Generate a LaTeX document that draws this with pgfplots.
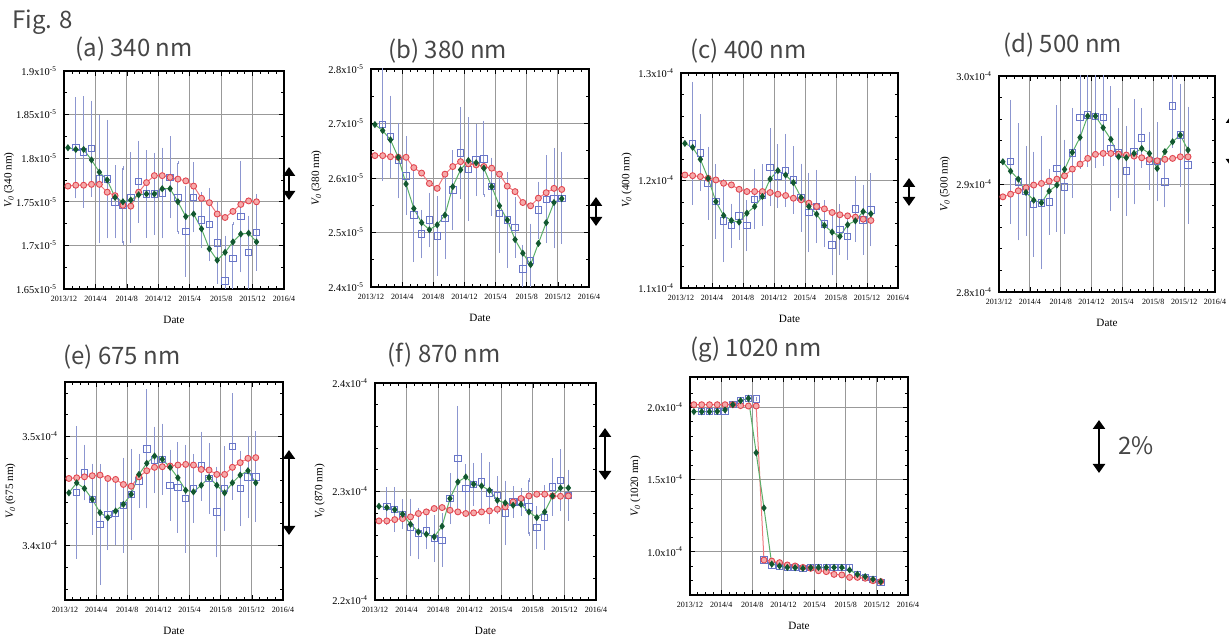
\documentclass[border=0pt]{standalone}
\usepackage{fontspec}
\setmainfont{Liberation Serif}
\newfontfamily\ttl{Noto Sans CJK JP}
\usepackage{pgfplots}
\usepackage{pgfplotstable}
\pgfplotsset{compat=1.18}
\usetikzlibrary{arrows.meta}

\definecolor{redm}{RGB}{225,70,80}
\definecolor{redl}{RGB}{238,120,125}
\definecolor{redf}{RGB}{246,170,170}
\definecolor{grnm}{RGB}{18,88,48}
\definecolor{grnl}{RGB}{90,175,105}
\definecolor{blu}{RGB}{105,118,200}
\definecolor{blue}{RGB}{140,150,208}
\definecolor{txt}{RGB}{70,70,70}

% columns: x (months since 2013/12), r (red), g (green), b (blue), e (blue error)
\pgfplotstableread{
x r g b e
0.5 1.768 1.812 nan nan
1.5 1.769 1.810 1.812 0.056
2.5 1.769 1.810 1.807 0.062
3.5 1.770 1.798 1.811 0.053
4.5 1.770 1.784 1.776 0.071
5.5 1.761 1.775 1.776 0.066
6.5 1.757 1.755 1.750 0.040
7.5 1.746 1.750 1.746 0.043
8.5 1.745 1.752 1.755 0.050
9.5 1.761 1.758 1.773 0.045
10.5 1.772 1.759 1.759 0.048
11.5 1.780 1.759 1.759 0.045
12.5 1.780 1.765 1.760 0.050
13.5 1.778 1.765 1.778 0.045
14.5 1.776 1.750 1.755 0.040
15.5 1.774 1.733 1.716 0.050
16.5 1.768 1.736 1.755 0.038
17.5 1.754 1.719 1.729 0.030
18.5 1.749 1.696 1.724 0.040
19.5 1.736 1.683 1.703 0.045
20.5 1.732 1.692 1.659 0.050
21.5 1.739 1.704 1.685 0.040
22.5 1.747 1.713 1.733 0.062
23.5 1.751 1.714 1.692 0.040
24.5 1.750 1.704 1.715 0.042
}\tA
\pgfplotstableread{
x r g b e
0.5 2.641 2.698 nan nan
1.5 2.641 2.687 2.698 0.100
2.5 2.639 2.670 2.676 0.072
3.5 2.638 2.638 2.632 0.066
4.5 2.638 2.589 2.604 0.069
5.5 2.619 2.544 2.532 0.083
6.5 2.609 2.518 2.497 0.041
7.5 2.590 2.505 2.523 0.047
8.5 2.581 2.514 2.494 0.070
9.5 2.607 2.532 2.526 0.072
10.5 2.621 2.584 2.578 0.070
11.5 2.630 2.615 2.646 0.081
12.5 2.626 2.632 2.616 0.092
13.5 2.624 2.628 2.633 0.063
14.5 2.621 2.618 2.635 0.067
15.5 2.618 2.584 2.584 0.050
16.5 2.607 2.549 2.535 0.069
17.5 2.585 2.523 2.523 0.084
18.5 2.575 2.487 2.509 0.052
19.5 2.555 2.462 2.433 0.041
20.5 2.549 2.441 2.449 0.064
21.5 2.563 2.480 2.541 0.049
22.5 2.573 2.518 2.561 0.077
23.5 2.581 2.555 2.563 0.089
24.5 2.579 2.562 2.563 0.081
}\tB
\pgfplotstableread{
x r g b e
0.5 1.2051 1.2345 nan nan
1.5 1.2045 1.2308 1.2345 0.0556
2.5 1.2036 1.2197 1.2258 0.0340
3.5 1.2020 1.2020 1.1974 0.0324
4.5 1.2005 1.1804 1.1804 0.0330
5.5 1.1974 1.1674 1.1625 0.0368
6.5 1.1959 1.1628 1.1579 0.0190
7.5 1.1918 1.1613 1.1671 0.0207
8.5 1.1897 1.1696 1.1579 0.0222
9.5 1.1897 1.1758 1.1826 0.0263
10.5 1.1897 1.1851 1.1866 0.0269
11.5 1.1888 1.2014 1.2122 0.0346
12.5 1.1872 1.2092 1.2042 0.0278
13.5 1.1860 1.2051 1.2092 0.0324
14.5 1.1835 1.1980 1.2005 0.0297
15.5 1.1820 1.1841 1.1841 0.0300
16.5 1.1789 1.1758 1.1702 0.0355
17.5 1.1758 1.1687 1.1758 0.0324
18.5 1.1736 1.1582 1.1597 0.0201
19.5 1.1702 1.1520 1.1402 0.0269
20.5 1.1681 1.1480 1.1542 0.0222
21.5 1.1671 1.1588 1.1480 0.0200
22.5 1.1659 1.1625 1.1736 0.0290
23.5 1.1640 1.1711 1.1634 0.0310
24.5 1.1628 1.1690 1.1727 0.0324
}\tC
\pgfplotstableread{
x r g b e
0.5 2.8881 2.9206 nan nan
1.5 2.8906 2.9119 2.9206 0.0556
2.5 2.8937 2.9045 2.9020 0.0525
3.5 2.8965 2.8922 2.8937 0.0400
4.5 2.8990 2.8850 2.8813 0.0470
5.5 2.9005 2.8826 2.8826 0.0600
6.5 2.9027 2.8934 2.8835 0.0290
7.5 2.9045 2.8990 2.9144 0.0570
8.5 2.9076 2.9135 2.8974 0.0420
9.5 2.9138 2.9292 2.9289 0.0400
10.5 2.9184 2.9431 2.9617 0.0460
11.5 2.9237 2.9629 2.9638 0.0460
12.5 2.9274 2.9629 2.9623 0.0460
13.5 2.9283 2.9521 2.9617 0.0430
14.5 2.9283 2.9413 2.9329 0.0560
15.5 2.9277 2.9252 2.9289 0.0400
16.5 2.9268 2.9243 2.9122 0.0400
17.5 2.9258 2.9283 2.9299 0.0470
18.5 2.9243 2.9329 2.9428 0.0260
19.5 2.9228 2.9283 2.9215 0.0250
20.5 2.9215 2.9144 2.9206 0.0350
21.5 2.9228 2.9299 2.9020 0.0220
22.5 2.9237 2.9391 2.9722 0.0370
23.5 2.9252 2.9453 2.9453 0.0460
24.5 2.9252 2.9314 2.9175 0.0525
}\tD
\pgfplotstableread{
x r g b e
0.5 3.4615 3.4483 nan nan
1.5 3.4621 3.4575 3.4486 0.059
2.5 3.4630 3.4523 3.4670 0.024
3.5 3.4640 3.4424 3.4424 0.031
4.5 3.4646 3.4301 3.4193 0.054
5.5 3.4615 3.4255 3.4285 0.031
6.5 3.4606 3.4316 3.4292 0.027
7.5 3.4560 3.4378 3.4369 0.042
8.5 3.4544 3.4470 3.4470 0.040
9.5 3.4630 3.4652 3.4593 0.023
10.5 3.4686 3.4754 3.4886 0.053
11.5 3.4717 3.4821 3.4784 0.029
12.5 3.4723 3.4791 3.4791 0.031
13.5 3.4729 3.4717 3.4553 0.031
14.5 3.4738 3.4621 3.4532 0.040
15.5 3.4744 3.4507 3.4430 0.048
16.5 3.4738 3.4492 3.4523 0.030
17.5 3.4698 3.4553 3.4729 0.030
18.5 3.4692 3.4624 3.4615 0.031
19.5 3.4652 3.4553 3.4307 0.040
20.5 3.4652 3.4483 3.4523 0.037
21.5 3.4717 3.4575 3.4908 0.047
22.5 3.4760 3.4646 3.4523 0.033
23.5 3.4800 3.4686 3.4630 0.036
24.5 3.4806 3.4575 3.4630 0.040
}\tE
\pgfplotstableread{
x r g b e
0.5 2.2729 2.2864 nan nan
1.5 2.2729 2.2852 2.2864 0.016
2.5 2.2741 2.2833 2.2836 0.019
3.5 2.2750 2.2790 2.2790 0.012
4.5 2.2766 2.2698 2.2668 0.025
5.5 2.2797 2.2628 2.2612 0.022
6.5 2.2812 2.2606 2.2643 0.016
7.5 2.2843 2.2582 2.2566 0.020
8.5 2.2852 2.2680 2.2551 0.023
9.5 2.2827 2.2935 2.2935 0.022
10.5 2.2812 2.3088 2.3303 0.047
11.5 2.2797 2.3134 2.3027 0.021
12.5 2.2803 2.3067 2.3067 0.018
13.5 2.2812 2.3051 2.3088 0.025
14.5 2.2821 2.3011 2.2987 0.027
15.5 2.2836 2.2919 2.2965 0.016
16.5 2.2858 2.2895 2.2803 0.028
17.5 2.2904 2.2873 2.2904 0.013
18.5 2.2935 2.2882 2.2904 0.011
19.5 2.2959 2.2812 2.2858 0.025
20.5 2.2975 2.2760 2.2668 0.018
21.5 2.2975 2.2812 2.2760 0.028
22.5 2.2959 2.2959 2.3042 0.025
23.5 2.2956 2.3033 2.3104 0.027
24.5 2.2959 2.3033 2.2965 0.022
}\tF
\pgfplotstableread{
x r g b e
0.5 2.018 1.970 nan nan
1.5 2.018 1.970 1.970 0.004
2.5 2.018 1.970 1.970 0.004
3.5 2.018 1.972 1.972 0.004
4.5 2.018 1.982 1.972 0.004
5.5 2.018 2.018 2.018 0.004
6.5 2.012 2.046 2.046 0.004
7.5 2.009 2.062 2.062 0.004
8.5 2.009 1.685 2.058 0.004
9.5 0.942 1.303 0.942 0.004
10.5 0.935 0.914 0.903 0.004
11.5 0.924 0.901 0.896 0.004
12.5 0.908 0.891 0.891 0.004
13.5 0.901 0.889 0.889 0.004
14.5 0.891 0.885 0.885 0.004
15.5 0.885 0.889 0.889 0.004
16.5 0.868 0.891 0.891 0.004
17.5 0.862 0.891 0.891 0.004
18.5 0.843 0.891 0.891 0.004
19.5 0.839 0.891 0.889 0.004
20.5 0.822 0.873 0.891 0.004
21.5 0.822 0.843 0.839 0.004
22.5 0.816 0.827 0.822 0.004
23.5 0.799 0.809 0.809 0.004
24.5 0.793 0.793 0.786 0.004
}\tG

\newcommand{\threeseries}[1]{%
  \addplot[blu, only marks, mark=square, mark size=1.6pt,
    mark options={line width=0.45pt},
    error bars/.cd, y dir=both, y explicit,
    error bar style={blue, line width=0.45pt},
    error mark options={blue, mark size=0.9pt, line width=0.4pt}]
    table[x=x, y=b, y error=e]{#1};
  \addplot[redl, line width=0.5pt, mark=*, mark size=1.5pt,
    mark options={draw=redm, fill=redf, line width=0.45pt}]
    table[x=x, y=r]{#1};
  \addplot[grnl, line width=0.5pt, mark=diamond*, mark size=1.4pt,
    mark options={draw=grnm, fill=grnm}]
    table[x=x, y=g]{#1};
}

\pgfplotsset{
  panel/.style={
    scale only axis, anchor=south west,
    xmin=0, xmax=28,
    xtick={0,4,8,12,16,20,24,28},
    xticklabels={2013/12,2014/4,2014/8,2014/12,2015/4,2015/8,2015/12,2016/4},
    minor x tick num=3,
    tick align=inside,
    major tick length=2.5pt, minor tick length=1.3pt,
    tick style={black, line width=0.35pt},
    axis line style={black, line width=0.75pt},
    grid=major, major grid style={black!40, line width=0.4pt},
    x tick label style={font=\fontsize{4}{4.5}\selectfont},
    y tick label style={font=\fontsize{5.2}{6}\selectfont},
    label style={font=\fontsize{5.6}{6.5}\selectfont},
    xlabel={Date},
    xlabel style={at={(axis description cs:0.5,-0.142)}, anchor=center},
    ylabel style={at={(axis description cs:-0.25,0.5)}, anchor=center},
  },
}
\tikzset{
  arr/.style={{Triangle[width=6pt,length=4.5pt]}-{Triangle[width=6pt,length=4.5pt]},
    line width=1.4pt, black},
}

\newcommand{\sx}[1]{x10\textsuperscript{#1}}

\begin{document}
\begin{tikzpicture}
\path[use as bounding box] (0,0) rectangle (614.5pt,317.5pt);

% (a) 340 nm
\begin{axis}[panel, at={(32pt,173pt)}, width=110pt, height=109pt,
  ymin=1.65, ymax=1.9, ytick={1.65,1.70,1.75,1.80,1.85,1.90},
  yticklabels={1.65\sx{-5},1.7\sx{-5},1.75\sx{-5},1.8\sx{-5},1.85\sx{-5},1.9\sx{-5}},
  minor y tick num=1,
  ylabel={{\itshape V\textsubscript{0}}\,(340 nm)}]
\threeseries{\tA}
\end{axis}

% (b) 380 nm
\begin{axis}[panel, at={(185.5pt,174pt)}, width=109pt, height=109pt,
  ymin=2.4, ymax=2.8, ytick={2.4,2.5,2.6,2.7,2.8},
  yticklabels={2.4\sx{-5},2.5\sx{-5},2.6\sx{-5},2.7\sx{-5},2.8\sx{-5}},
  minor y tick num=1,
  ylabel={{\itshape V\textsubscript{0}}\,(380 nm)}]
\threeseries{\tB}
\end{axis}

% (c) 400 nm
\begin{axis}[panel, at={(340.5pt,173.5pt)}, width=108.5pt, height=107.5pt,
  ymin=1.1, ymax=1.3, ytick={1.1,1.2,1.3},
  yticklabels={1.1\sx{-4},1.2\sx{-4},1.3\sx{-4}},
  minor y tick num=4,
  ylabel={{\itshape V\textsubscript{0}}\,(400 nm)}]
\threeseries{\tC}
\end{axis}

% (d) 500 nm
\begin{axis}[panel, at={(499.5pt,171.5pt)}, width=108pt, height=108pt,
  ymin=2.8, ymax=3.0, ytick={2.8,2.9,3.0},
  yticklabels={2.8\sx{-4},2.9\sx{-4},3.0\sx{-4}},
  minor y tick num=4,
  ylabel={{\itshape V\textsubscript{0}}\,(500 nm)}]
\threeseries{\tD}
\end{axis}

% (e) 675 nm
\begin{axis}[panel, at={(32.5pt,17.5pt)}, width=109pt, height=109pt,
  ymin=3.35, ymax=3.55, ytick={3.4,3.5},
  yticklabels={3.4\sx{-4},3.5\sx{-4}},
  minor ytick={3.36,3.38,3.42,3.44,3.46,3.48,3.52,3.54},
  ylabel={{\itshape V\textsubscript{0}}\,(675 nm)}]
\threeseries{\tE}
\end{axis}

% (f) 870 nm
\begin{axis}[panel, at={(187.5pt,17.5pt)}, width=110.5pt, height=108.5pt,
  ymin=2.2, ymax=2.4, ytick={2.2,2.3,2.4},
  yticklabels={2.2\sx{-4},2.3\sx{-4},2.4\sx{-4}},
  minor y tick num=4,
  ylabel={{\itshape V\textsubscript{0}}\,(870 nm)}]
\threeseries{\tF}
\end{axis}

% (g) 1020 nm
\begin{axis}[panel, at={(345pt,20pt)}, width=109pt, height=109pt,
  ymin=0.7, ymax=2.21, ytick={1.0,1.5,2.0},
  yticklabels={1.0\sx{-4},1.5\sx{-4},2.0\sx{-4}},
  minor ytick={0.8,0.9,1.1,1.2,1.3,1.4,1.6,1.7,1.8,1.9,2.1},
  ylabel={{\itshape V\textsubscript{0}}\,(1020 nm)}]
\threeseries{\tG}
\end{axis}

\begin{scope}[x=0.5pt, y=-0.5pt, yshift=317.5pt]
  \tikzset{ttlnode/.style={font=\ttl\fontsize{12}{14}\selectfont, text=txt, anchor=west, inner sep=0pt}}
  \node[ttlnode] at (12,22) {Fig. 8};
  \node[ttlnode] at (75,49) {(a) 340 nm};
  \node[ttlnode] at (388,51) {(b) 380 nm};
  \node[ttlnode] at (690,51) {(c) 400 nm};
  \node[ttlnode] at (1003,45) {(d) 500 nm};
  \node[ttlnode] at (63,357) {(e) 675 nm};
  \node[ttlnode] at (387,355) {(f) 870 nm};
  \node[ttlnode] at (690,350) {(g) 1020 nm};
  \node[ttlnode] at (1118,446) {2\%};
  \draw[arr] (289,167) -- (289,200);
  \draw[arr] (596,197) -- (596,226);
  \draw[arr] (909,178) -- (909,206);
  \draw[arr] (1232,114) -- (1232,168);
  \draw[arr] (289,450) -- (289,535);
  \draw[arr] (605,428) -- (605,480);
  \draw[arr] (1099,420) -- (1099,473);
\end{scope}
\end{tikzpicture}
\end{document}
